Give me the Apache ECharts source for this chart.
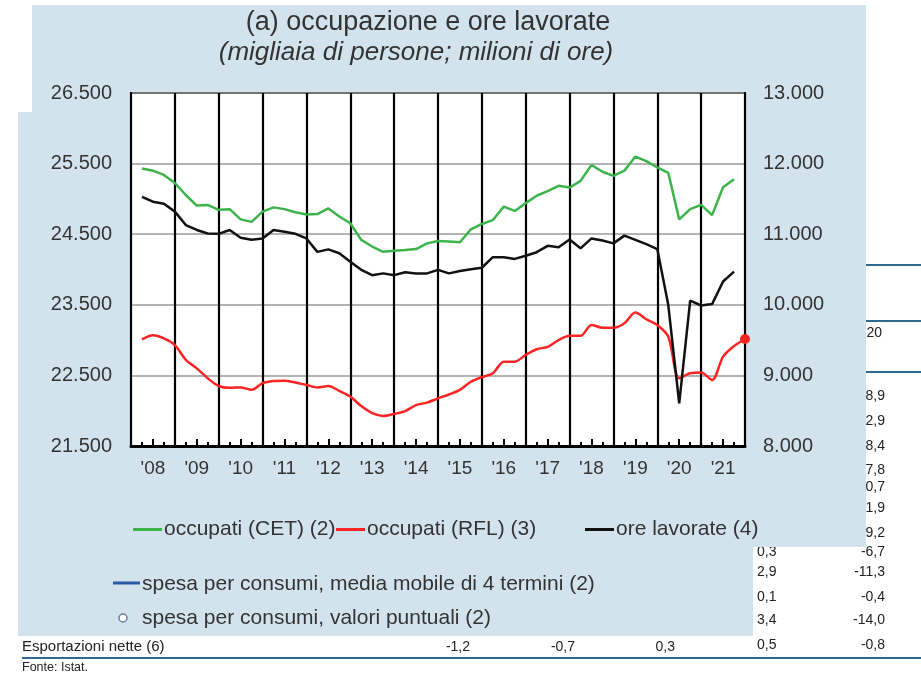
<!DOCTYPE html>
<html>
<head>
<meta charset="utf-8">
<script src="https://cdn.jsdelivr.net/npm/echarts@6/dist/echarts.min.js"></script>
<style>
html, body { margin: 0; padding: 0; background: #fff; }
#chart { width: 921px; height: 673px; }
</style>
</head>
<body>
<div id="chart"></div>
<script>
// dati trimestrali 2008 T1 - 2021 T3 (RFL fino a T4)
const startYear = 2008;
const yearLabels = ["'08", "'09", "'10", "'11", "'12", "'13", "'14", "'15", "'16", "'17", "'18", "'19", "'20", "'21"];

const occupatiCET = [
  25430, 25400, 25340, 25225, 25055, 24905, 24915, 24845, 24855, 24710,
  24675, 24820, 24880, 24855, 24810, 24780, 24785, 24865, 24750, 24655,
  24420, 24325, 24250, 24265, 24275, 24290, 24370, 24405, 24395, 24385,
  24570, 24645, 24700, 24890, 24830, 24940, 25045, 25110, 25185, 25160,
  25255, 25480, 25385, 25325, 25400, 25600, 25535, 25445, 25370, 24710,
  24855, 24915, 24770, 25165, 25280
];

const occupatiRFL = [
  23010, 23070, 23025, 22930, 22720, 22600, 22460, 22350, 22325, 22330,
  22295, 22390, 22420, 22425, 22400, 22365, 22330, 22350, 22280, 22200,
  22065, 21965, 21925, 21955, 21995, 22080, 22115, 22175, 22230, 22295,
  22410, 22475, 22530, 22695, 22695, 22790, 22870, 22905, 23000, 23060,
  23060, 23215, 23175, 23175, 23240, 23390, 23295, 23215, 23050, 22460,
  22530, 22540, 22435, 22765, 22915, 23015
];

const oreLavorate = [
  11530, 11460, 11430, 11320, 11130, 11060, 11010, 11005, 11060, 10950,
  10920, 10940, 11060, 11035, 11005, 10940, 10750, 10785, 10730, 10610,
  10495, 10420, 10445, 10420, 10460, 10445, 10445, 10495, 10445, 10480,
  10505, 10525, 10675, 10675, 10650, 10695, 10745, 10835, 10815, 10925,
  10800, 10940, 10910, 10870, 10980, 10920, 10860, 10790, 10000, 8605,
  10060, 9990, 10010, 10330, 10470
];

// tabella sottostante (frammenti visibili)
const tabDestra = [
  ['2020', 333], ['-8,9', 396], ['-2,9', 421], ['-8,4', 446], ['-7,8', 470],
  ['-0,7', 487], ['1,9', 508], ['-9,2', 533], ['-6,7', 552], ['-11,3', 572],
  ['-0,4', 597], ['-14,0', 620], ['-0,8', 645]
];
const tabSinistra = [['0,3', 552], ['2,9', 572], ['0,1', 597], ['3,4', 620], ['0,5', 645]];
const rigaEsport = [['-1,2', 470], ['-0,7', 575], ['0,3', 675]];

const toXY = (arr) => arr.map((v, i) => [startYear + (i + 1) / 4, v]);
const fmt = (v) => String(v).replace(/\B(?=(\d{3})+(?!\d))/g, '.');

const FONT = "'Liberation Sans', Arial, sans-serif";
const panel = '#d3e3ee';
const txt = '#333';
const tabLine = '#2e6a8e';

let chart = echarts.init(document.getElementById('chart'));

const redData = toXY(occupatiRFL);
redData[redData.length - 1] = {
  value: redData[redData.length - 1],
  symbol: 'circle', symbolSize: 10
};

const graphics = [];
// testo della tabella sotto il pannello
tabDestra.forEach(([t, y], i) => graphics.push({
  type: 'text', z: -2,
  style: { x: i === 0 ? 882 : 885, y: y, text: t, textAlign: 'right', textVerticalAlign: 'middle', font: '14px ' + FONT, fill: '#222' }
}));
tabSinistra.forEach(([t, y]) => graphics.push({
  type: 'text', z: -2,
  style: { x: 757, y: y, text: t, textAlign: 'left', textVerticalAlign: 'middle', font: '14px ' + FONT, fill: '#222' }
}));
rigaEsport.forEach(([t, x]) => graphics.push({
  type: 'text', z: -2,
  style: { x: x, y: 647, text: t, textAlign: 'right', textVerticalAlign: 'middle', font: '14px ' + FONT, fill: '#222' }
}));
[265, 321, 372].forEach(y => graphics.push({
  type: 'line', z: -2, shape: { x1: 740, y1: y, x2: 921, y2: y }, style: { stroke: tabLine, lineWidth: 2 }
}));
graphics.push(
  { type: 'line', z: -2, shape: { x1: 22, y1: 658, x2: 921, y2: 658 }, style: { stroke: tabLine, lineWidth: 2 } },
  { type: 'text', z: -2, style: { x: 22, y: 647, text: 'Esportazioni nette (6)', textVerticalAlign: 'middle', font: '15px ' + FONT, fill: '#222' } },
  { type: 'text', z: -2, style: { x: 22, y: 668, text: 'Fonte: Istat.', textVerticalAlign: 'middle', font: '12.5px ' + FONT, fill: '#222' } },
  // pannello azzurro
  { type: 'rect', z: -1, shape: { x: 32, y: 5, width: 834, height: 108 }, style: { fill: panel } },
  { type: 'rect', z: -1, shape: { x: 18, y: 112, width: 848, height: 435 }, style: { fill: panel } },
  { type: 'rect', z: -1, shape: { x: 18, y: 546, width: 735, height: 90 }, style: { fill: panel } },
  // titolo
  { type: 'text', style: { x: 428, y: 23, text: '(a) occupazione e ore lavorate', textAlign: 'center', textVerticalAlign: 'middle', font: '27px ' + FONT, fill: txt } },
  { type: 'text', style: { x: 416, y: 53, text: '(migliaia di persone; milioni di ore)', textAlign: 'center', textVerticalAlign: 'middle', font: 'italic 26px ' + FONT, fill: txt } },
  // voci di legenda di un altro grafico
  { type: 'line', shape: { x1: 113, y1: 583, x2: 140, y2: 583 }, style: { stroke: '#2a5aa5', lineWidth: 3 } },
  { type: 'text', style: { x: 142, y: 584, text: 'spesa per consumi, media mobile di 4 termini (2)', textVerticalAlign: 'middle', font: '21px ' + FONT, fill: txt } },
  { type: 'circle', shape: { cx: 123, cy: 618, r: 4 }, style: { fill: '#fff', stroke: '#6d7d99', lineWidth: 1.5 } },
  { type: 'text', style: { x: 142, y: 618, text: 'spesa per consumi, valori puntuali (2)', textVerticalAlign: 'middle', font: '21px ' + FONT, fill: txt } }
);

const legendBase = {
  top: 519, padding: 0, icon: 'rect', itemWidth: 29, itemHeight: 3,
  textStyle: { fontSize: 21, fontFamily: FONT, color: txt, padding: [0, 0, 0, -3] }
};

var option = {
  backgroundColor: '#fff',
  animation: false,
  graphic: graphics,
  legend: [
    Object.assign({ left: 133, data: ['occupati (CET) (2)'] }, legendBase),
    Object.assign({ left: 336, data: ['occupati (RFL) (3)'] }, legendBase),
    Object.assign({ left: 585, data: ['ore lavorate (4)'] }, legendBase)
  ],
  grid: {
    left: 131, right: 176, top: 93, bottom: 227,
    show: true, backgroundColor: '#fff', borderColor: '#000', borderWidth: 2
  },
  xAxis: [
    {
      type: 'value', min: startYear, max: startYear + yearLabels.length, interval: 0.5,
      position: 'bottom',
      axisLine: { lineStyle: { color: '#000', width: 3 } },
      axisTick: { inside: true, length: 7, lineStyle: { color: '#000', width: 2 } },
      minorTick: { show: true, splitNumber: 2, length: 4, lineStyle: { color: '#000', width: 2 } },
      splitLine: { show: false },
      axisLabel: {
        margin: 13, fontSize: 19, fontFamily: FONT, color: txt,
        formatter: function (v) {
          const f = v - Math.floor(v);
          return Math.abs(f - 0.5) < 1e-6 ? yearLabels[Math.floor(v) - startYear] : '';
        }
      }
    },
    {
      type: 'value', min: startYear, max: startYear + yearLabels.length, interval: 1,
      position: 'top',
      axisLine: { show: false }, axisTick: { show: false }, axisLabel: { show: false },
      splitLine: { show: true, lineStyle: { color: '#000', width: 2.2 } }
    }
  ],
  yAxis: [
    {
      type: 'value', min: 21500, max: 26500, interval: 1000,
      axisLine: { show: true, lineStyle: { color: '#000', width: 2 } },
      axisTick: { show: false },
      splitLine: { lineStyle: { color: '#9a9a9a', width: 1.5 } },
      axisLabel: { margin: 19, fontSize: 20, fontFamily: FONT, color: txt, formatter: fmt }
    },
    {
      type: 'value', min: 8000, max: 13000, interval: 1000, position: 'right',
      axisLine: { show: true, lineStyle: { color: '#000', width: 2 } },
      axisTick: { show: false },
      splitLine: { show: false },
      axisLabel: { margin: 18, fontSize: 20, fontFamily: FONT, color: txt, formatter: fmt }
    }
  ],
  series: [
    {
      name: 'occupati (CET) (2)', type: 'line', xAxisIndex: 0, yAxisIndex: 0,
      data: toXY(occupatiCET), symbol: 'none',
      itemStyle: { color: '#3cb44b' }, lineStyle: { color: '#3cb44b', width: 2.5 }, z: 3
    },
    {
      name: 'occupati (RFL) (3)', type: 'line', xAxisIndex: 0, yAxisIndex: 0,
      data: redData, symbol: 'none', smooth: 0.3,
      itemStyle: { color: '#ff2424' }, lineStyle: { color: '#ff2424', width: 2.5 }, z: 3
    },
    {
      name: 'ore lavorate (4)', type: 'line', xAxisIndex: 0, yAxisIndex: 1,
      data: toXY(oreLavorate), symbol: 'none',
      itemStyle: { color: '#111' }, lineStyle: { color: '#111', width: 2.5 }, z: 3
    }
  ]
};
chart.setOption(option);
</script>
</body>
</html>
